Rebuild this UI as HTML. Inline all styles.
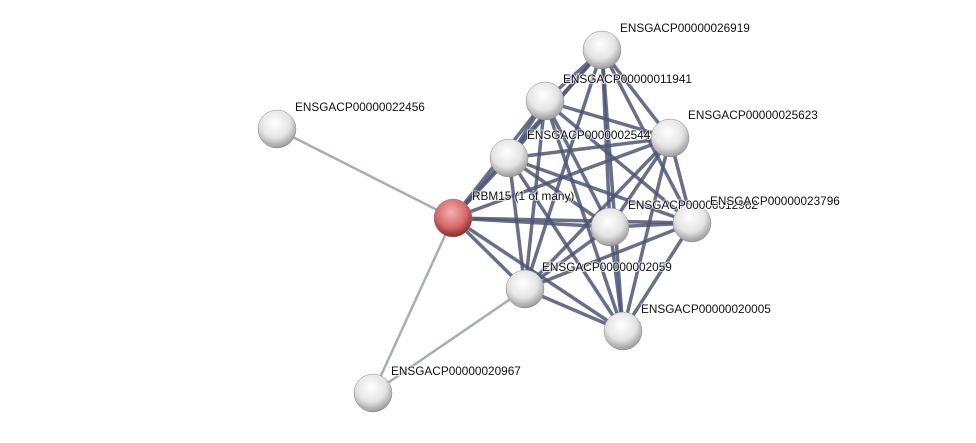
<!DOCTYPE html>
<html><head><style>
body{margin:0;background:#fff;width:976px;height:438px;overflow:hidden}
text{font-family:"Liberation Sans",sans-serif;font-size:11.8px;fill:#111;paint-order:stroke;stroke:#fff;stroke-width:2px;stroke-opacity:.7}
</style></head><body>
<svg width="976" height="438" xmlns="http://www.w3.org/2000/svg">
<defs>
<radialGradient id="g" cx="45%" cy="35%" r="65%"><stop offset="0" stop-color="#fff"/><stop offset=".6" stop-color="#e4e4e4"/><stop offset="1" stop-color="#9a9a9a"/></radialGradient>
<radialGradient id="r" cx="45%" cy="35%" r="65%"><stop offset="0" stop-color="#f4b0b0"/><stop offset=".6" stop-color="#d86a6a"/><stop offset="1" stop-color="#8a2a2a"/></radialGradient>
</defs>
<g stroke="#a8acbc" stroke-width="2.5">
<line x1="277" y1="129" x2="453" y2="218"/><line x1="453" y1="218" x2="373" y2="393"/><line x1="373" y1="393" x2="525" y2="289"/>
</g>
<g stroke="#4e5677" stroke-width="3.5" stroke-opacity=".85" id="e"></g>
<g id="n"></g>
</svg>
<script>
var N=[[602,50],[545,101],[670,138],[509,158],[453,218],[610,227],[692,223],[525,289],[623,331]];
var e=document.getElementById('e'),s='';
for(var i=0;i<N.length;i++)for(var j=i+1;j<N.length;j++)s+='<line x1="'+N[i][0]+'" y1="'+N[i][1]+'" x2="'+N[j][0]+'" y2="'+N[j][1]+'"/>';
e.innerHTML=s;
var all=[[602,50,'g','ENSGACP00000026919',620,32],[545,101,'g','ENSGACP00000011941',563,83],[277,129,'g','ENSGACP00000022456',295,111],[670,138,'g','ENSGACP00000025623',688,119],[509,158,'g','ENSGACP0000002544',527,139],[453,218,'r','RBM15 (1 of many)',472,200],[610,227,'g','ENSGACP00000012962',628,209],[692,223,'g','ENSGACP00000023796',710,205],[525,289,'g','ENSGACP00000002059',542,271],[623,331,'g','ENSGACP00000020005',641,313],[373,393,'g','ENSGACP00000020967',391,375]];
var t='';
all.forEach(function(a){t+='<circle cx="'+a[0]+'" cy="'+a[1]+'" r="19" fill="url(#'+a[2]+')" stroke="#888" stroke-width=".5"/>';});
all.forEach(function(a){t+='<text x="'+a[4]+'" y="'+a[5]+'">'+a[3]+'</text>';});
document.getElementById('n').innerHTML=t;
</script>
</body></html>
